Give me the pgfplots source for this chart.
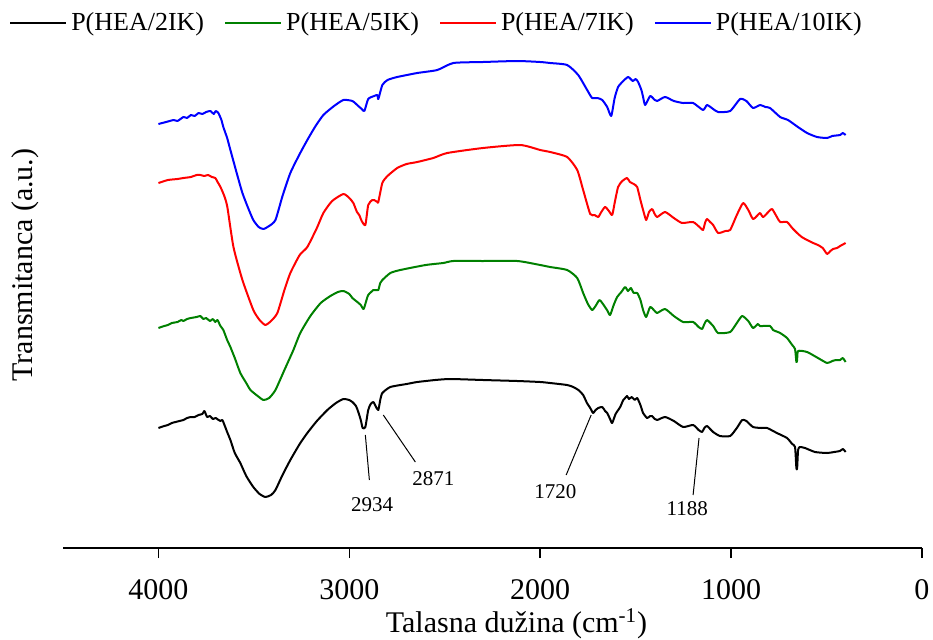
\documentclass[border=0pt]{standalone}
\usepackage{fontspec}
\setmainfont{Liberation Serif}
\usepackage{pgfplots}
\pgfplotsset{compat=1.18}
\definecolor{cgreen}{RGB}{0,128,0}
\definecolor{cred}{RGB}{255,0,0}
\definecolor{cblue}{RGB}{0,0,255}
\begin{document}
\begin{tikzpicture}
\begin{axis}[
  scale only axis, width=429.5pt, height=254pt,
  xmin=0, xmax=4500, ymin=0, ymax=508, x dir=reverse,
  axis x line=bottom, axis y line=none,
  x axis line style={-, line width=0.8pt},
  xtick={0,1000,2000,3000,4000}, ytick=\empty,
  tick align=outside, major tick length=5pt,
  every tick/.style={black, line width=0.8pt},
  /pgf/number format/assume math mode=true,
  /pgf/number format/1000 sep={},
  xticklabel style={font=\fontsize{15}{17}\selectfont, anchor=center, inner sep=0pt, yshift=-16pt},
  xlabel={Talasna dužina (cm\textsuperscript{-1})},
  xlabel style={font=\fontsize{15}{17}\selectfont, at={(axis description cs:0.528,0)}, anchor=center, inner sep=0pt, yshift=-38pt},
  legend columns=4,
  legend style={draw=none, fill=none, at={(axis description cs:-0.063,1.034)}, anchor=west, inner sep=0pt,
    font=\fontsize{13}{15}\selectfont,
    /tikz/every even column/.append style={column sep=8pt},
    /tikz/every odd column/.append style={column sep=0pt}},
  legend cell align=left,
  legend image code/.code={\draw[#1, line width=1pt] (0pt,0pt) -- (28pt,0pt);},
  every axis plot/.append style={line width=1pt, line join=round, smooth, tension=0.35},
  clip=false,
]
% P(HEA/2IK)
\addplot[black] coordinates {
(4000,120)(3970,122)(3950,123)(3930,125)(3910,126)(3890,127)(3869,128)(3850,130)(3830,131)(3810,131)(3790,133)(3770,134)(3760,137)(3754,135)(3745,131)(3730,132)(3715,129)(3700,130)(3685,128)(3675,127)(3665,128)(3650,121)(3640,116)(3623,108)(3600,95)(3571,85)(3540,72)(3503,61)(3470,54)(3440,51)(3410,53)(3387,58)(3350,73)(3309,88)(3260,104)(3220,115)(3170,127)(3115,138)(3070,145)(3031,149)(3000,148)(2984,146)(2965,142)(2953,136)(2940,128)(2930,120)(2916,121)(2901,138)(2888,144)(2874,146)(2860,141)(2848,138)(2838,148)(2827,155)(2785,161)(2700,164)(2644,166)(2550,168)(2471,169)(2300,168)(2120,167)(2000,166)(1948,165)(1859,163)(1827,161)(1800,158)(1775,153)(1755,145)(1738,140)(1723,135)(1710,138)(1696,140)(1675,141)(1660,137)(1649,135)(1634,129)(1623,125)(1605,134)(1581,141)(1565,148)(1555,150)(1545,152)(1535,149)(1520,151)(1505,148)(1492,150)(1475,143)(1461,135)(1440,130)(1424,132)(1414,132)(1400,129)(1387,128)(1346,131)(1300,127)(1251,121)(1199,123)(1170,118)(1152,116)(1140,120)(1126,122)(1094,116)(1058,112)(1005,112)(970,120)(942,128)(920,127)(885,121)(840,120)(811,120)(760,115)(707,110)(680,104)(665,101)(658,80)(654,80)(649,98)(640,101)(613,100)(560,96)(497,95)(460,96)(430,97)(414,99)(400,96)
};
% P(HEA/5IK)
\addplot[cgreen] coordinates {
(4000,220)(3970,222)(3950,223)(3930,225)(3900,226)(3880,228)(3869,227)(3850,229)(3830,230)(3800,231)(3780,232)(3765,229)(3750,230)(3730,227)(3715,229)(3702,226)(3691,228)(3675,222)(3660,218)(3640,208)(3623,201)(3600,190)(3571,175)(3540,165)(3518,158)(3480,152)(3450,148)(3420,150)(3387,158)(3340,178)(3293,198)(3257,215)(3204,232)(3150,245)(3099,252)(3060,256)(3031,257)(3000,254)(2984,250)(2958,246)(2940,243)(2925,239)(2910,248)(2901,253)(2874,258)(2860,258)(2848,258)(2838,265)(2827,268)(2785,275)(2733,278)(2600,283)(2508,285)(2455,287)(2300,287)(2120,287)(2000,283)(1948,281)(1859,278)(1806,270)(1775,255)(1750,244)(1728,238)(1710,242)(1690,248)(1675,245)(1650,238)(1634,233)(1615,243)(1597,251)(1575,256)(1555,261)(1540,257)(1525,260)(1510,255)(1492,255)(1475,248)(1461,238)(1445,231)(1424,241)(1400,237)(1387,235)(1346,239)(1300,232)(1251,226)(1199,226)(1170,221)(1152,219)(1140,224)(1126,228)(1094,222)(1068,215)(1005,216)(970,225)(942,232)(910,227)(885,220)(860,224)(848,222)(796,222)(780,218)(743,215)(707,210)(680,203)(665,199)(658,186)(654,188)(649,197)(602,196)(545,190)(497,185)(470,187)(450,188)(429,188)(415,190)(400,186)
};
% P(HEA/7IK)
\addplot[cred] coordinates {
(4000,365)(3950,368)(3900,369)(3869,370)(3830,371)(3800,373)(3780,373)(3760,372)(3740,373)(3720,371)(3702,370)(3690,366)(3675,361)(3655,352)(3639,341)(3607,301)(3560,268)(3503,238)(3470,228)(3440,223)(3410,227)(3377,235)(3340,258)(3309,275)(3260,293)(3220,301)(3170,320)(3136,335)(3090,347)(3031,354)(3000,350)(2979,345)(2960,336)(2948,333)(2935,327)(2916,323)(2901,343)(2880,348)(2870,348)(2853,346)(2848,346)(2827,365)(2800,372)(2749,380)(2700,384)(2644,386)(2560,390)(2487,395)(2300,400)(2105,403)(2000,398)(1948,396)(1859,391)(1806,378)(1775,358)(1738,334)(1715,333)(1696,331)(1680,336)(1660,341)(1640,337)(1623,333)(1610,345)(1592,361)(1570,367)(1545,370)(1530,366)(1510,364)(1492,361)(1475,348)(1461,338)(1445,328)(1430,336)(1414,339)(1400,334)(1387,331)(1346,336)(1300,330)(1257,325)(1199,326)(1160,320)(1147,318)(1135,326)(1126,329)(1110,326)(1094,323)(1068,315)(1030,317)(1005,318)(970,333)(937,345)(910,338)(885,329)(860,333)(848,335)(832,331)(800,337)(785,339)(760,331)(743,326)(707,326)(680,320)(654,315)(630,311)(602,308)(570,305)(545,303)(520,300)(497,294)(480,297)(466,299)(445,300)(429,302)(400,305)
};
% P(HEA/10IK)
\addplot[cblue] coordinates {
(4000,424)(3960,426)(3920,428)(3900,427)(3869,431)(3850,430)(3830,433)(3810,432)(3790,435)(3770,434)(3750,436)(3728,437)(3710,434)(3700,437)(3686,435)(3670,428)(3660,421)(3640,410)(3623,398)(3590,375)(3560,355)(3530,340)(3503,328)(3475,321)(3450,319)(3420,322)(3387,328)(3350,352)(3309,375)(3260,394)(3220,408)(3180,421)(3136,433)(3080,442)(3031,448)(2984,447)(2953,442)(2935,439)(2921,437)(2901,449)(2870,452)(2853,453)(2848,449)(2827,463)(2800,468)(2749,471)(2644,475)(2539,478)(2455,485)(2300,486)(2120,487)(2000,486)(1948,485)(1859,483)(1801,473)(1754,458)(1728,450)(1700,450)(1675,448)(1649,441)(1628,432)(1610,450)(1592,461)(1565,467)(1539,471)(1515,467)(1500,469)(1487,466)(1470,458)(1461,451)(1450,443)(1424,452)(1400,448)(1387,447)(1346,451)(1300,447)(1251,445)(1199,445)(1147,438)(1126,443)(1094,439)(1068,436)(1005,437)(953,449)(920,447)(885,440)(848,443)(820,441)(796,440)(743,431)(702,428)(650,421)(602,415)(550,411)(497,410)(470,412)(429,413)(415,415)(400,413)
};
\legend{P(HEA/2IK),P(HEA/5IK),P(HEA/7IK),P(HEA/10IK)}
% annotations
\draw[line width=0.5pt] (axis cs:2916,113) -- (axis cs:2895,68);
\node[font=\fontsize{10.5}{12}\selectfont] at (axis cs:2880,43) {2934};
\draw[line width=0.5pt] (axis cs:2822,133) -- (axis cs:2654,86);
\node[font=\fontsize{10.5}{12}\selectfont] at (axis cs:2560,69) {2871};
\draw[line width=0.5pt] (axis cs:1733,133) -- (axis cs:1864,73);
\node[font=\fontsize{10.5}{12}\selectfont] at (axis cs:1921,56) {1720};
\draw[line width=0.5pt] (axis cs:1168,110) -- (axis cs:1199,53);
\node[font=\fontsize{10.5}{12}\selectfont] at (axis cs:1230,39) {1188};
\node[rotate=90, font=\fontsize{15}{17}\selectfont] at ([xshift=-19pt]axis description cs:0,0.557) {Transmitanca (a.u.)};
\end{axis}
\pgfresetboundingbox
\useasboundingbox (current axis.south west) ++(-31.5pt,-45.5pt) rectangle ++(466.5pt,319.5pt);
\end{tikzpicture}
\end{document}
